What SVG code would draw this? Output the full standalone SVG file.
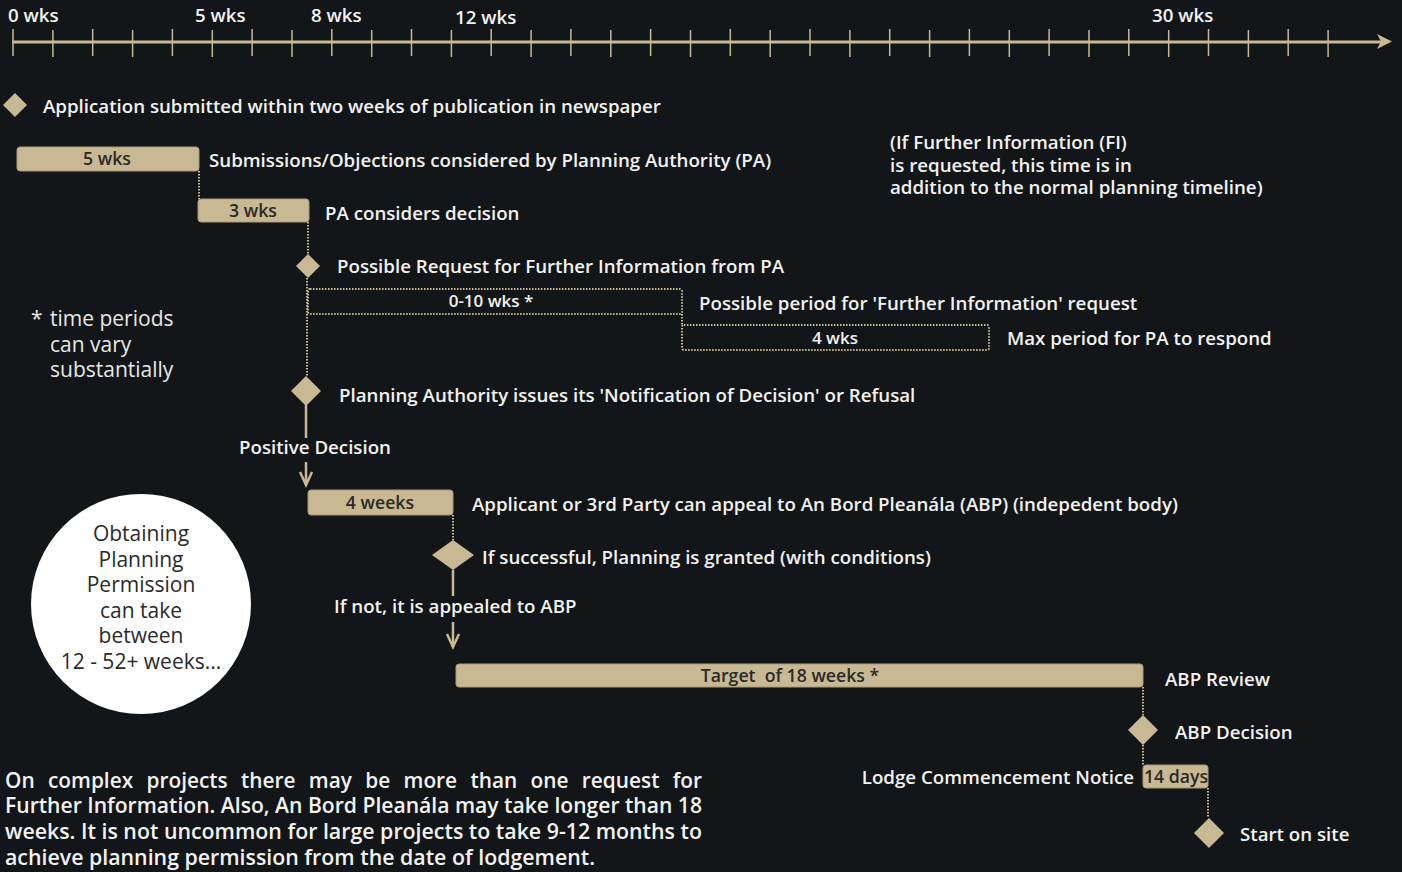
<svg xmlns="http://www.w3.org/2000/svg" width="1402" height="872" viewBox="0 0 1402 872">
<defs>
<style>
.bg{fill:#131618}
.t{font-family:"Open Sans","Noto Sans","DejaVu Sans",sans-serif;font-weight:600;font-size:18.7px;fill:#f2f2f0}
.d{font-family:"Open Sans","Noto Sans","DejaVu Sans",sans-serif;font-weight:600;font-size:17.7px;fill:#2c2a26}
.n{font-family:"Open Sans","Noto Sans","DejaVu Sans",sans-serif;font-weight:400;font-size:21px}
.bar{fill:#c8b994;stroke:#a89a76;stroke-width:1}
.dia{fill:#c8b994}
.dot{fill:none;stroke:#c8b994;stroke-width:2;stroke-dasharray:1.5 1.5}
.solid{fill:none;stroke:#c8b994;stroke-width:2.5}
.tick{stroke:#c8b994;stroke-width:1.5}
</style>
</defs>
<rect class="bg" x="0" y="0" width="1402" height="872"/>

<g id="axis">
<line x1="12" y1="42" x2="1386" y2="42" stroke="#c8b994" stroke-width="3"/>
<path d="M1377,34 L1392,41.5 L1377,49 L1381,41.5 Z" fill="#c8b994"/>
<g class="tick">
<line x1="13" y1="29" x2="13" y2="56"/><line x1="52.9" y1="30" x2="52.9" y2="57"/><line x1="92.7" y1="29" x2="92.7" y2="56"/><line x1="132.6" y1="30" x2="132.6" y2="57"/><line x1="172.4" y1="29" x2="172.4" y2="56"/><line x1="212.3" y1="30" x2="212.3" y2="57"/><line x1="252.1" y1="29" x2="252.1" y2="56"/><line x1="292" y1="30" x2="292" y2="57"/><line x1="331.8" y1="29" x2="331.8" y2="56"/><line x1="371.7" y1="30" x2="371.7" y2="57"/><line x1="411.5" y1="29" x2="411.5" y2="56"/><line x1="451.4" y1="30" x2="451.4" y2="57"/><line x1="491.2" y1="29" x2="491.2" y2="56"/><line x1="531.1" y1="30" x2="531.1" y2="57"/><line x1="570.9" y1="29" x2="570.9" y2="56"/><line x1="610.8" y1="30" x2="610.8" y2="57"/><line x1="650.6" y1="29" x2="650.6" y2="56"/><line x1="690.5" y1="30" x2="690.5" y2="57"/><line x1="730.3" y1="29" x2="730.3" y2="56"/><line x1="770.2" y1="30" x2="770.2" y2="57"/><line x1="810" y1="29" x2="810" y2="56"/><line x1="849.9" y1="30" x2="849.9" y2="57"/><line x1="889.7" y1="29" x2="889.7" y2="56"/><line x1="929.6" y1="30" x2="929.6" y2="57"/><line x1="969.4" y1="29" x2="969.4" y2="56"/><line x1="1009.3" y1="30" x2="1009.3" y2="57"/><line x1="1049.1" y1="29" x2="1049.1" y2="56"/><line x1="1089" y1="30" x2="1089" y2="57"/><line x1="1128.8" y1="29" x2="1128.8" y2="56"/><line x1="1168.7" y1="30" x2="1168.7" y2="57"/><line x1="1208.5" y1="29" x2="1208.5" y2="56"/><line x1="1248.4" y1="30" x2="1248.4" y2="57"/><line x1="1288.2" y1="29" x2="1288.2" y2="56"/><line x1="1328.1" y1="30" x2="1328.1" y2="57"/>
</g>
<text class="t" x="8" y="22">0 wks</text>
<text class="t" x="195" y="22">5 wks</text>
<text class="t" x="311" y="22">8 wks</text>
<text class="t" x="455" y="24">12 wks</text>
<text class="t" x="1152" y="22">30 wks</text>
</g>

<g id="connectors">
<polyline class="dot" points="199,171 199,199"/>
<polyline class="dot" points="308,222 308,254"/>
<polyline class="dot" points="307,278 307,376"/>
<polyline class="dot" points="682,314 682,325"/>
<line class="solid" x1="306" y1="405" x2="306" y2="438"/>
<line class="solid" x1="306" y1="462" x2="306" y2="485"/>
<polyline class="solid" points="300,472 306,485 312,472"/>
<polyline class="dot" points="453,515 453,540"/>
<line class="solid" x1="453" y1="570" x2="453" y2="596"/>
<line class="solid" x1="453" y1="622" x2="453" y2="647"/>
<polyline class="solid" points="447,634 453,647 459,634"/>
<polyline class="dot" points="1143,687 1143,715"/>
<polyline class="dot" points="1143,745 1143,765"/>
<polyline class="dot" points="1208,788 1208,818"/>
</g>

<g id="n-application">
<path class="dia" d="M15,93 L27,105 L15,117 L3,105 Z"/>
<text class="t" x="43" y="113">Application submitted within two weeks of publication in newspaper</text>
</g>

<g id="n-submissions">
<rect class="bar" x="17" y="147" width="182" height="24" rx="3"/>
<text class="d" x="107" y="165" text-anchor="middle">5 wks</text>
<text class="t" x="209" y="167">Submissions/Objections considered by Planning Authority (PA)</text>
</g>

<g id="n-pa-considers">
<rect class="bar" x="198" y="199" width="111" height="23" rx="3"/>
<text class="d" x="253" y="217" text-anchor="middle">3 wks</text>
<text class="t" x="325" y="220">PA considers decision</text>
</g>

<g id="n-fi-note">
<text class="t" x="890" y="149">(If Further Information (FI)</text>
<text class="t" x="890" y="172">is requested, this time is in</text>
<text class="t" x="890" y="194">addition to the normal planning timeline)</text>
</g>

<g id="n-fi-request">
<path class="dia" d="M308,254 L320,266 L308,278 L296,266 Z"/>
<text class="t" x="337" y="273">Possible Request for Further Information from PA</text>
</g>

<g id="n-fi-period">
<rect class="dot" x="308" y="289" width="374" height="25" rx="2"/>
<text class="t" x="491" y="307" text-anchor="middle" style="font-size:17px">0-10 wks *</text>
<text class="t" x="699" y="310">Possible period for 'Further Information' request</text>
</g>

<g id="n-pa-respond">
<rect class="dot" x="682" y="325" width="307" height="25" rx="2"/>
<text class="t" x="835" y="344" text-anchor="middle" style="font-size:17px">4 wks</text>
<text class="t" x="1007" y="345">Max period for PA to respond</text>
</g>

<g id="n-note-vary">
<text class="n" x="31" y="326" fill="#e8e8e6">*</text>
<text class="n" x="50" y="326" fill="#e8e8e6">time periods</text>
<text class="n" x="50" y="352" fill="#e8e8e6">can vary</text>
<text class="n" x="50" y="377" fill="#e8e8e6">substantially</text>
</g>

<g id="n-notification">
<path class="dia" d="M306,376 L321,391 L306,406 L291,391 Z"/>
<text class="t" x="339" y="402">Planning Authority issues its 'Notification of Decision' or Refusal</text>
</g>

<g id="n-positive">
<text class="t" x="239" y="454">Positive Decision</text>
</g>

<g id="n-appeal-window">
<rect class="bar" x="308" y="490" width="145" height="25" rx="3"/>
<text class="d" x="380" y="509" text-anchor="middle">4 weeks</text>
<text class="t" x="472" y="511">Applicant or 3rd Party can appeal to An Bord Pleanála (ABP) (indepedent body)</text>
</g>

<g id="n-granted">
<path class="dia" d="M453,540 L474,555 L453,570 L432,555 Z"/>
<text class="t" x="482" y="564">If successful, Planning is granted (with conditions)</text>
</g>

<g id="n-not">
<text class="t" x="334" y="613">If not, it is appealed to ABP</text>
</g>

<g id="n-circle">
<circle cx="141" cy="604" r="110" fill="#ffffff"/>
<g class="n" fill="#2a2a2a" text-anchor="middle">
<text x="141" y="541">Obtaining</text>
<text x="141" y="567">Planning</text>
<text x="141" y="592">Permission</text>
<text x="141" y="618">can take</text>
<text x="141" y="643">between</text>
<text x="141" y="669">12 - 52+ weeks...</text>
</g>
</g>

<g id="n-abp-review">
<rect class="bar" x="456" y="664" width="687" height="23" rx="3"/>
<text class="d" x="790" y="682" text-anchor="middle" xml:space="preserve">Target  of 18 weeks *</text>
<text class="t" x="1165" y="686">ABP Review</text>
</g>

<g id="n-abp-decision">
<path class="dia" d="M1143,715 L1158,730 L1143,745 L1128,730 Z"/>
<text class="t" x="1175" y="739">ABP Decision</text>
</g>

<g id="n-commencement">
<rect class="bar" x="1143" y="765" width="65" height="23" rx="3"/>
<text class="d" x="1176" y="783" text-anchor="middle">14 days</text>
<text class="t" x="1134" y="784" text-anchor="end">Lodge Commencement Notice</text>
</g>

<g id="n-start">
<path class="dia" d="M1209,818 L1224,833 L1209,848 L1194,833 Z"/>
<text class="t" x="1240" y="841">Start on site</text>
</g>

<g id="n-footnote" class="t" style="font-size:21px">
<text x="5" y="788" textLength="697" lengthAdjust="spacingAndGlyphs" style="word-spacing:8px">On complex projects there may be more than one request for</text>
<text x="5" y="813" textLength="697" lengthAdjust="spacingAndGlyphs">Further Information. Also, An Bord Pleanála may take longer than 18</text>
<text x="5" y="839" textLength="697" lengthAdjust="spacingAndGlyphs">weeks. It is not uncommon for large projects to take 9-12 months to</text>
<text x="5" y="865" textLength="590" lengthAdjust="spacingAndGlyphs">achieve planning permission from the date of lodgement.</text>
</g>
</svg>
